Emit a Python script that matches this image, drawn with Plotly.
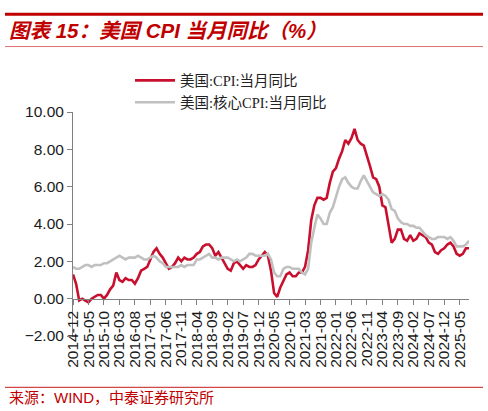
import pandas as pd
import plotly.graph_objects as go

# ---------------- data ----------------
months = [p.strftime("%Y-%m") for p in pd.period_range("2014-12", periods=129, freq="M")]

cpi = [1.3, 0.8,
       -0.1, 0.0, -0.1, -0.2, 0.0, 0.1, 0.2, 0.2, 0.0, 0.2, 0.5, 0.7,
       1.4, 1.0, 0.9, 1.1, 1.0, 1.0, 0.8, 1.1, 1.5, 1.6, 1.7, 2.1,
       2.5, 2.7, 2.4, 2.2, 1.9, 1.6, 1.7, 1.9, 2.2, 2.0, 2.2, 2.1,
       2.1, 2.2, 2.4, 2.5, 2.8, 2.9, 2.9, 2.7, 2.3, 2.5, 2.2, 1.9,
       1.6, 1.5, 1.9, 2.0, 1.8, 1.6, 1.8, 1.7, 1.7, 1.8, 2.1, 2.3,
       2.5, 2.3, 1.5, 0.3, 0.1, 0.6, 1.0, 1.3, 1.4, 1.2, 1.2, 1.4,
       1.4, 1.7, 2.6, 4.2, 5.0, 5.4, 5.4, 5.3, 5.4, 6.2, 6.8, 7.0,
       7.5, 7.9, 8.5, 8.3, 8.6, 9.1, 8.5, 8.3, 8.2, 7.7, 7.1, 6.5,
       6.4, 6.0, 5.0, 4.9, 4.0, 3.0, 3.2, 3.7, 3.7, 3.2, 3.1, 3.4,
       3.1, 3.2, 3.5, 3.4, 3.3, 3.0, 2.9, 2.5, 2.4, 2.6, 2.7, 2.9,
       3.0, 2.8, 2.4, 2.3, 2.4, 2.7, 2.7]

core_cpi = [1.7, 1.6,
            1.6, 1.7, 1.8, 1.8, 1.7, 1.8, 1.8, 1.8, 1.9, 1.9, 2.0, 2.1,
            2.2, 2.3, 2.2, 2.1, 2.2, 2.2, 2.2, 2.3, 2.2, 2.1, 2.1, 2.2,
            2.3, 2.2, 2.0, 1.9, 1.7, 1.7, 1.7, 1.7, 1.7, 1.8, 1.7, 1.8,
            1.8, 1.8, 2.1, 2.1, 2.2, 2.3, 2.4, 2.2, 2.2, 2.1, 2.2, 2.2,
            2.2, 2.1, 2.0, 2.1, 2.0, 2.1, 2.2, 2.4, 2.4, 2.3, 2.3, 2.3,
            2.3, 2.4, 2.1, 1.4, 1.2, 1.2, 1.6, 1.7, 1.7, 1.6, 1.6, 1.6,
            1.4, 1.3, 1.6, 3.0, 3.8, 4.5, 4.3, 4.0, 4.0, 4.6, 4.9, 5.5,
            6.0, 6.4, 6.5, 6.2, 6.0, 5.9, 5.9, 6.3, 6.6, 6.3, 6.0, 5.7,
            5.6, 5.5, 5.6, 5.5, 5.3, 4.8, 4.7, 4.3, 4.1, 4.0, 4.0, 3.9,
            3.9, 3.8, 3.8, 3.6, 3.4, 3.3, 3.2, 3.2, 3.3, 3.3, 3.3, 3.2,
            3.3, 3.1, 2.8, 2.8, 2.8, 2.9, 3.1]

tick_labels = ["2014-12", "2015-05", "2015-10", "2016-03", "2016-08", "2017-01",
               "2017-06", "2017-11", "2018-04", "2018-09", "2019-02", "2019-07",
               "2019-12", "2020-05", "2020-10", "2021-03", "2021-08", "2022-01",
               "2022-06", "2022-11", "2023-04", "2023-09", "2024-02", "2024-07",
               "2024-12", "2025-05"]

series_names = ["美国:CPI:当月同比", "美国:核心CPI:当月同比"]
title_text = "图表 15：美国 CPI 当月同比（%）"
source_text = "来源：WIND，中泰证券研究所"

# ---------------- layout geometry (pixels) ----------------
W_PX, H_PX = 488, 411
L, R, T, B = 73, 469, 111.7, 336.5
PW, PH = R - L, B - T


def px(xp):
    return (xp - L) / PW


def py(yp):
    return (B - yp) / PH


RED = "#C8102E"
GRAY = "#C0C0C0"
TITLE_RED = "#C00000"

fig = go.Figure()
fig.add_trace(go.Scatter(x=months, y=cpi, mode="lines", name=series_names[0],
                         line=dict(color=RED, width=2.6), legendgroup="a"))
fig.add_trace(go.Scatter(x=months, y=core_cpi, mode="lines", name=series_names[1],
                         line=dict(color=GRAY, width=2.6), legendgroup="b"))

fig.update_layout(
    width=W_PX, height=H_PX,
    margin=dict(l=L, r=W_PX - R, t=T, b=H_PX - B, pad=0),
    paper_bgcolor="white", plot_bgcolor="white",
    showlegend=True,
    legend=dict(x=px(130), y=py(64), xanchor="left", yanchor="top",
                bgcolor="rgba(0,0,0,0)", borderwidth=0,
                font=dict(family="Liberation Serif, Noto Sans CJK SC", size=14.5, color="#222"),
                tracegroupgap=13, itemwidth=40, traceorder="normal"),
    font=dict(family="Liberation Sans, Arial", color="#1a1a1a"),
)

fig.update_xaxes(
    type="category",
    categoryorder="array", categoryarray=months,
    range=[0, len(months) - 1],
    tickmode="array", tickvals=months[::5][:len(tick_labels)], ticktext=tick_labels,
    tickangle=-90,
    ticks="outside", ticklen=5, tickcolor="#808080", tickwidth=1,
    showline=True, linecolor="#808080", linewidth=1,
    showgrid=False, zeroline=False,
    anchor="free", position=2 / 12,
    tickfont=dict(family="Liberation Sans, Arial", size=15.5, color="#1a1a1a"),
    automargin=False,
)
fig.update_yaxes(
    range=[-2, 10], dtick=2, tick0=-2, tickformat=".2f",
    ticks="outside", ticklen=5, tickcolor="#808080", tickwidth=1,
    showline=True, linecolor="#808080", linewidth=1,
    showgrid=False, zeroline=False,
    tickfont=dict(family="Liberation Sans, Arial", size=15.5, color="#1a1a1a"),
    automargin=False,
)

shapes = [
    dict(type="line", xref="paper", yref="paper", x0=px(5), x1=px(483), y0=py(13.5), y1=py(13.5),
         line=dict(color=TITLE_RED, width=3)),
    dict(type="line", xref="paper", yref="paper", x0=px(5), x1=px(483), y0=py(46), y1=py(46),
         line=dict(color="#E07070", width=1)),
    dict(type="line", xref="paper", yref="paper", x0=px(5), x1=px(483), y0=py(388), y1=py(388),
         line=dict(color="#D04848", width=1.2)),
]
fig.update_layout(shapes=shapes)

fig.add_annotation(xref="paper", yref="paper", x=px(7), y=py(29.5), xanchor="left", yanchor="middle",
                   text="<b><i>" + title_text + "</i></b>", showarrow=False,
                   font=dict(family="Liberation Sans, Noto Sans CJK SC", size=20.5, color=TITLE_RED))
fig.add_annotation(xref="paper", yref="paper", x=px(7), y=py(398.5), xanchor="left", yanchor="middle",
                   text=source_text, showarrow=False,
                   font=dict(family="Liberation Sans, Noto Sans CJK SC", size=15, color=TITLE_RED))

fig.write_html("out.html", config={"displayModeBar": False},
               post_script="document.body.style.margin='0';document.body.style.overflow='hidden';")
